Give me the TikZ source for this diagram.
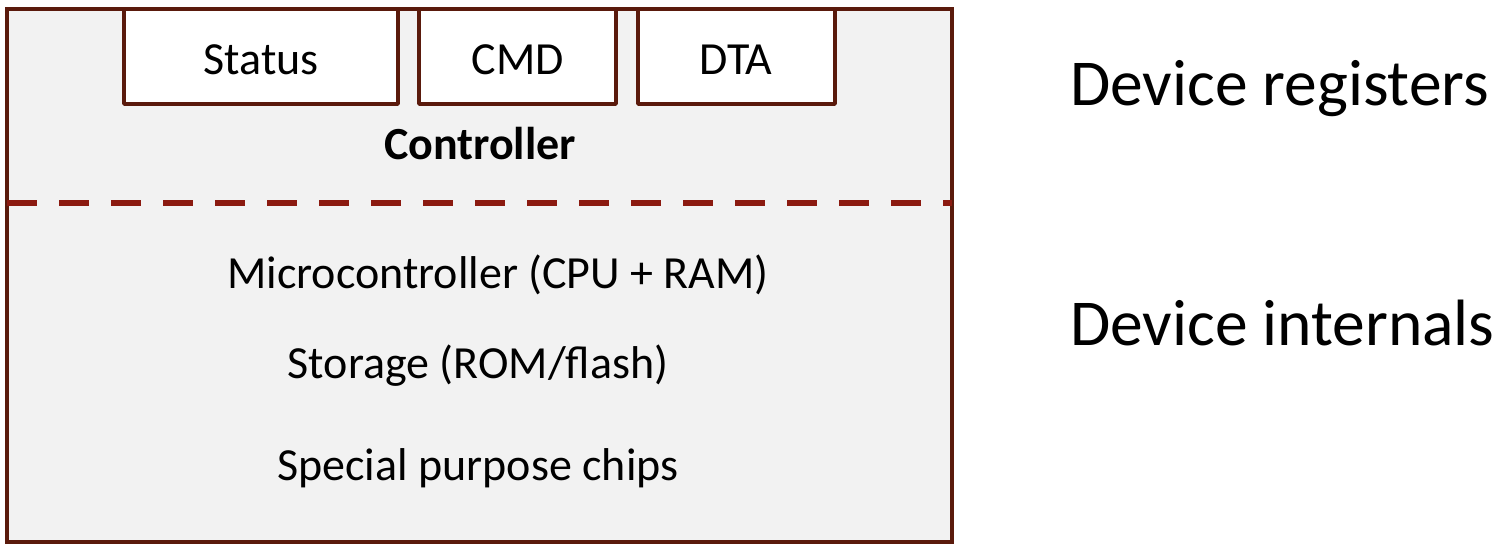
\documentclass[tikz,border=0pt]{standalone}
\usepackage{fontspec}
\setmainfont{Carlito}
\begin{document}
\begin{tikzpicture}[x=1pt,y=-1pt,
  frame/.style={draw=brownline,line width=4pt,fill=panel},
  reg/.style={draw=brownline,line width=3.5pt,fill=white,line join=round},
  lbl/.style={font=\fontsize{46}{55}\selectfont,inner sep=0pt,anchor=base},
  side/.style={font=\fontsize{65.5}{78}\selectfont,inner sep=0pt,anchor=base west},
  divider/.style={draw=redline,line width=6pt,dash pattern=on 30pt off 22pt}]
\definecolor{brownline}{HTML}{5A1A0C}
\definecolor{redline}{HTML}{8B1A10}
\definecolor{panel}{HTML}{F2F2F2}
\useasboundingbox (0,0) rectangle (1512,550);
\draw[frame] (7,9) rectangle (952,542);
\draw[reg] (124,9) rectangle (398,104);
\draw[reg] (419,9) rectangle (616,104);
\draw[reg] (638,9) rectangle (835,104);
\coordinate (dl) at (7,203);
\coordinate (dr) at (952,203);
\draw[divider] (dl) -- (dr);
\node[lbl] (status) at (261,74) {Status};
\node[lbl] (cmd) at (518,74) {CMD};
\node[lbl] (dta) at (736,74) {DTA};
\node[lbl,font=\fontsize{46}{55}\selectfont\bfseries] (ctrl) at (480,159) {Controller};
\node[lbl] (micro) at (498,288) {Microcontroller (CPU + RAM)};
\node[lbl] (stor) at (478,378) {Storage (ROM/flash)};
\node[lbl] (chips) at (478,480) {Special purpose chips};
\node[side] (devreg) at (1070,105) {Device registers};
\node[side] (devint) at (1070,345) {Device internals};
\end{tikzpicture}
\end{document}
